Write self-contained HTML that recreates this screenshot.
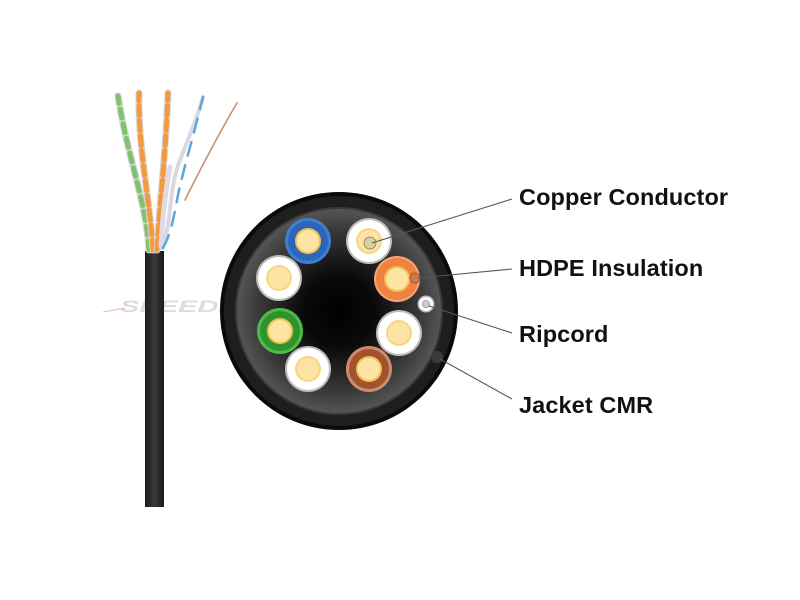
<!DOCTYPE html>
<html><head><meta charset="utf-8"><style>
html,body{margin:0;padding:0;background:#fff;}
body{width:800px;height:600px;overflow:hidden;position:relative;font-family:"Liberation Sans",Arial,sans-serif;}
.lbl{position:absolute;font-weight:bold;font-size:23.5px;letter-spacing:0.1px;color:#111;line-height:1;white-space:nowrap;}
</style></head><body>
<svg width="800" height="600" viewBox="0 0 800 600" xmlns="http://www.w3.org/2000/svg" style="position:absolute;left:0;top:0">
<defs>
<radialGradient id="core" cx="339" cy="311" r="104" gradientUnits="userSpaceOnUse">
<stop offset="0" stop-color="#000"/>
<stop offset="0.35" stop-color="#0a0a0a"/>
<stop offset="0.8" stop-color="#3c3c3c"/>
<stop offset="1" stop-color="#575757"/>
</radialGradient>
<linearGradient id="jack" x1="0" x2="1" y1="0" y2="0">
<stop offset="0" stop-color="#1c1c1c"/>
<stop offset="0.5" stop-color="#3a3a3a"/>
<stop offset="1" stop-color="#1a1a1a"/>
</linearGradient>
</defs>
<!-- watermark -->
<text x="120" y="312" font-family="Liberation Sans, sans-serif" font-style="italic" font-weight="bold" font-size="17" fill="#d4d4d4" opacity="0.8" textLength="137" lengthAdjust="spacingAndGlyphs">SPEEDEX</text>
<line x1="103" y1="312" x2="125" y2="308" stroke="#f4b0b0" stroke-width="1"/>

<!-- cable jacket -->
<rect x="145" y="251" width="19" height="256" fill="url(#jack)"/>

<!-- wires -->
<g fill="none" stroke-linecap="round">
<!-- green pair -->
<path d="M149 250 C146 200 128 160 118 96" stroke="#d9d4dc" stroke-width="7"/>
<path d="M149 250 C146 200 128 160 118 96" stroke="#7fc36a" stroke-width="5" stroke-dasharray="9 6"/>
<!-- orange pair 1 -->
<path d="M153 250 C150 200 138 150 139 93" stroke="#d9d4dc" stroke-width="7"/>
<path d="M153 250 C150 200 138 150 139 93" stroke="#f39a3c" stroke-width="5" stroke-dasharray="10 5"/>
<!-- orange pair 2 -->
<path d="M157 250 C160 200 166 150 168 93" stroke="#d9d4dc" stroke-width="7"/>
<path d="M157 250 C160 200 166 150 168 93" stroke="#f39a3c" stroke-width="5" stroke-dasharray="10 5"/>
<!-- white strand -->
<path d="M161 246 C163 210 166 190 170 167" stroke="#dedbe6" stroke-width="5"/>
<!-- blue pair -->
<path d="M162 248 C172 225 168 190 180 160 C190 135 198 115 203 97" stroke="#dcd8e2" stroke-width="4"/>
<path d="M163 248 C172 232 175 210 178 195 C182 175 195 130 203 97" stroke="#5aa6e0" stroke-width="2.5" stroke-dasharray="14 10"/>
<!-- brown -->
<path d="M185 200 C195 180 215 140 237 103" stroke="#c99070" stroke-width="1.6"/>
</g>

<!-- cross section -->
<circle cx="339" cy="311" r="119" fill="#0a0a0a"/>
<circle cx="339" cy="311" r="115" fill="#1e1e1e"/>
<circle cx="339" cy="311" r="104" fill="#3a3a3a"/>
<circle cx="339" cy="311" r="102" fill="url(#core)"/>

<!-- wires in section -->
<g>
<circle cx="308" cy="241" r="23" fill="#3f7fd0"/>
<circle cx="308" cy="241" r="20" fill="#2d66b8"/>
<circle cx="308" cy="241" r="13" fill="#f2c253"/>
<circle cx="308" cy="241" r="11" fill="#fde4a4"/>

<circle cx="369" cy="241" r="23" fill="#bdbdbd"/>
<circle cx="369" cy="241" r="21" fill="#fff"/>
<circle cx="369" cy="241" r="13" fill="#f6d680"/>
<circle cx="369" cy="241" r="11" fill="#fde4a4"/>
<circle cx="370" cy="243" r="6" fill="#d8cfa0" stroke="#7a7a60" stroke-width="0.8"/>

<circle cx="279" cy="278" r="23" fill="#bdbdbd"/>
<circle cx="279" cy="278" r="21" fill="#fff"/>
<circle cx="279" cy="278" r="13" fill="#f6d680"/>
<circle cx="279" cy="278" r="11" fill="#fde4a4"/>

<circle cx="397" cy="279" r="23" fill="#f7a575"/>
<circle cx="397" cy="279" r="21" fill="#ef8240"/>
<circle cx="397" cy="279" r="13" fill="#f2c253"/>
<circle cx="397" cy="279" r="11" fill="#fde4a4"/>
<circle cx="415" cy="278" r="5" fill="#c87a50" stroke="#8a5030" stroke-width="0.8"/>

<circle cx="426" cy="304" r="8.5" fill="#bbb"/>
<circle cx="426" cy="304" r="7" fill="#fff"/>
<circle cx="426" cy="304" r="3.5" fill="#ccc" stroke="#888" stroke-width="0.8"/>

<circle cx="280" cy="331" r="23" fill="#4fb94a"/>
<circle cx="280" cy="331" r="20" fill="#2f942f"/>
<circle cx="280" cy="331" r="13" fill="#f2c253"/>
<circle cx="280" cy="331" r="11" fill="#fde4a4"/>

<circle cx="399" cy="333" r="23" fill="#bdbdbd"/>
<circle cx="399" cy="333" r="21" fill="#fff"/>
<circle cx="399" cy="333" r="13" fill="#f6d680"/>
<circle cx="399" cy="333" r="11" fill="#fde4a4"/>

<circle cx="308" cy="369" r="23" fill="#bdbdbd"/>
<circle cx="308" cy="369" r="21" fill="#fff"/>
<circle cx="308" cy="369" r="13" fill="#f6d680"/>
<circle cx="308" cy="369" r="11" fill="#fde4a4"/>

<circle cx="369" cy="369" r="23" fill="#d08a6c"/>
<circle cx="369" cy="369" r="20" fill="#a0532f"/>
<circle cx="369" cy="369" r="13" fill="#f2c253"/>
<circle cx="369" cy="369" r="11" fill="#fde4a4"/>

<circle cx="437" cy="357" r="6" fill="#3a3a3a"/>
</g>

<!-- leader lines -->
<g stroke="#555" stroke-width="1.1" fill="none">
<line x1="372" y1="243" x2="512" y2="199"/>
<line x1="418" y1="278" x2="512" y2="269"/>
<line x1="429" y1="306" x2="512" y2="333"/>
<line x1="440" y1="359" x2="512" y2="399"/>
</g>
</svg>
<div class="lbl" style="left:519px;top:186px;">Copper Conductor</div>
<div class="lbl" style="left:519px;top:257px;">HDPE Insulation</div>
<div class="lbl" style="left:519px;top:323px;">Ripcord</div>
<div class="lbl" style="left:519px;top:394px;">Jacket CMR</div>
</body></html>
